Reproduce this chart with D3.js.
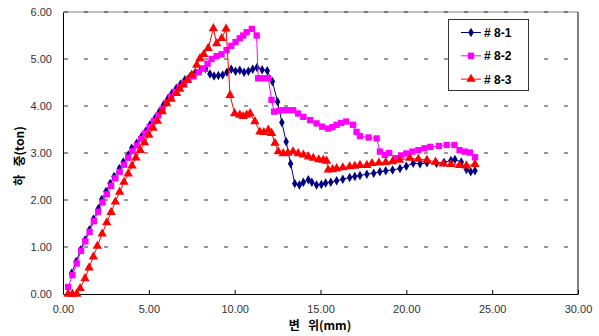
<!DOCTYPE html>
<html>
<head>
<meta charset="utf-8">
<script src="https://cdn.jsdelivr.net/npm/d3@7"></script>
<style>
  body { margin: 0; background: #fff; }
  text { font-family: "Liberation Sans", Arial, sans-serif; }
</style>
</head>
<body>
<svg id="chart" width="599" height="336"></svg>
<script>
// series names
const seriesNames = ["# 8-1", "# 8-2", "# 8-3"];

// tick labels
const xTicks = [0, 5, 10, 15, 20, 25, 30];
const yTicks = [0, 1, 2, 3, 4, 5, 6];

// # 8-1  [변위(mm), 하중(ton)]
const s81 = [[0.5,0.44],[0.76,0.69],[1.03,0.94],[1.28,1.15],[1.53,1.36],[1.77,1.59],[2.06,1.82],[2.25,2.01],[2.5,2.18],[2.74,2.35],[2.97,2.5],[3.28,2.67],[3.51,2.81],[3.8,2.96],[4.0,3.1],[4.29,3.21],[4.58,3.35],[4.83,3.47],[5.07,3.6],[5.36,3.74],[5.61,3.88],[5.85,4.02],[6.1,4.15],[6.35,4.27],[6.6,4.38],[6.85,4.47],[7.1,4.56],[7.4,4.63],[7.7,4.7],[8.0,4.75],[8.3,4.8],[8.56,4.68],[8.8,4.64],[9.05,4.65],[9.3,4.66],[9.55,4.72],[9.8,4.78],[10.05,4.74],[10.3,4.76],[10.55,4.72],[10.8,4.74],[11.05,4.78],[11.3,4.82],[11.6,4.77],[11.9,4.75],[12.2,4.52],[12.5,4.09],[12.75,3.65],[13.0,3.24],[13.26,2.77],[13.5,2.35],[13.77,2.32],[14.0,2.38],[14.29,2.43],[14.5,2.38],[14.77,2.32],[15.05,2.33],[15.3,2.36],[15.6,2.38],[15.94,2.41],[16.3,2.44],[16.7,2.48],[17.0,2.5],[17.3,2.52],[17.7,2.55],[18.1,2.57],[18.46,2.6],[18.8,2.62],[19.2,2.64],[19.63,2.67],[20.0,2.72],[20.4,2.78],[20.8,2.77],[21.2,2.79],[21.76,2.78],[22.2,2.8],[22.6,2.84],[22.83,2.86],[23.2,2.81],[23.5,2.65],[23.75,2.6],[24.0,2.62]];

// # 8-2
const s82 = [[0.3,0.15],[0.55,0.4],[0.8,0.65],[1.05,0.92],[1.3,1.12],[1.55,1.32],[1.8,1.55],[2.05,1.75],[2.3,1.95],[2.55,2.12],[2.8,2.3],[3.05,2.46],[3.3,2.6],[3.55,2.75],[3.8,2.9],[4.05,3.04],[4.3,3.16],[4.55,3.3],[4.8,3.42],[5.05,3.55],[5.3,3.68],[5.55,3.8],[5.8,3.94],[6.05,4.07],[6.3,4.2],[6.55,4.3],[6.8,4.4],[7.05,4.48],[7.3,4.56],[7.6,4.63],[7.9,4.72],[8.17,4.8],[8.42,4.9],[8.66,5.0],[8.95,5.06],[9.24,5.1],[9.53,5.19],[9.8,5.28],[10.05,5.36],[10.3,5.44],[10.5,5.5],[10.7,5.57],[11.0,5.64],[11.28,5.5],[11.37,4.59],[11.66,4.59],[11.96,4.59],[12.15,4.13],[12.3,3.88],[12.6,3.9],[12.83,3.91],[13.1,3.91],[13.4,3.91],[13.7,3.84],[14.0,3.77],[14.4,3.7],[14.77,3.63],[15.1,3.56],[15.45,3.52],[15.7,3.55],[15.94,3.6],[16.2,3.64],[16.5,3.67],[16.9,3.6],[17.1,3.45],[17.3,3.36],[17.8,3.33],[18.27,3.31],[18.46,3.03],[18.75,2.96],[19.0,3.0],[19.4,2.89],[19.7,2.95],[20.0,2.99],[20.35,3.03],[20.7,3.06],[21.05,3.1],[21.4,3.13],[21.9,3.15],[22.35,3.17],[22.8,3.17],[23.1,3.06],[23.4,3.03],[23.7,3.01],[24.0,2.91]];

// # 8-3
const s83 = [[0.3,0.0],[0.55,0.0],[0.8,0.0],[1.0,0.12],[1.28,0.33],[1.52,0.56],[1.77,0.79],[2.0,1.02],[2.28,1.28],[2.55,1.52],[2.8,1.74],[3.05,1.96],[3.3,2.17],[3.55,2.38],[3.8,2.56],[4.02,2.73],[4.25,2.9],[4.5,3.06],[4.75,3.22],[5.0,3.38],[5.25,3.53],[5.5,3.68],[5.78,3.88],[6.04,4.05],[6.3,4.15],[6.62,4.27],[6.8,4.36],[7.0,4.45],[7.25,4.55],[7.5,4.66],[7.79,4.87],[7.98,5.01],[8.2,5.1],[8.46,5.23],[8.76,5.65],[8.95,5.33],[9.24,5.44],[9.5,5.64],[9.73,4.23],[10.0,3.84],[10.3,3.81],[10.5,3.78],[10.7,3.81],[10.9,3.84],[11.18,3.67],[11.47,3.45],[11.7,3.44],[11.96,3.49],[12.15,3.42],[12.35,3.21],[12.54,3.03],[12.83,2.99],[13.1,3.0],[13.4,3.03],[13.7,2.99],[14.0,2.96],[14.3,2.92],[14.58,2.89],[14.9,2.86],[15.16,2.85],[15.35,2.83],[15.45,2.64],[15.7,2.65],[15.94,2.67],[16.3,2.69],[16.7,2.71],[17.0,2.72],[17.3,2.74],[17.7,2.74],[18.0,2.78],[18.4,2.79],[18.8,2.8],[19.2,2.82],[19.6,2.85],[20.2,2.89],[20.7,2.87],[21.2,2.85],[21.7,2.81],[22.15,2.77],[22.6,2.76],[23.1,2.74],[23.5,2.73],[24.0,2.76]];

const colors = ["#000080", "#ff00ff", "#ff0000"];
const symbols = [d3.symbolDiamond, d3.symbolSquare, d3.symbolTriangle];
const symSize = [26, 40, 38];

const svg = d3.select("#chart");
const plotL = 63, plotR = 578, plotT = 12, plotB = 294;

const x = d3.scaleLinear().domain([0, 30]).range([plotL, plotR]);
const y = d3.scaleLinear().domain([0, 6]).range([plotB, plotT]);

// grid lines
svg.append("g").selectAll("line")
  .data(yTicks.filter(d => d > 0 && d < 6))
  .enter().append("line")
    .attr("x1", plotL).attr("x2", plotR)
    .attr("y1", d => y(d)).attr("y2", d => y(d))
    .attr("stroke", "#333").attr("stroke-width", 1)
    .attr("stroke-dasharray", "4,16")
    .attr("stroke-dashoffset", -1);

// frame: top grey, right black
svg.append("line").attr("x1", plotL).attr("x2", plotR).attr("y1", plotT).attr("y2", plotT)
  .attr("stroke", "#808080");
svg.append("line").attr("x1", plotL).attr("x2", plotR).attr("y1", plotT).attr("y2", plotT)
  .attr("stroke", "#333").attr("stroke-dasharray", "4,16").attr("stroke-dashoffset", -1);
svg.append("line").attr("x1", plotR).attr("x2", plotR).attr("y1", plotT).attr("y2", plotB)
  .attr("stroke", "#000");

// axes
const xAxis = svg.append("g")
  .attr("transform", "translate(0," + plotB + ")")
  .call(d3.axisBottom(x).tickValues(xTicks).tickSizeInner(-4).tickSizeOuter(0)
    .tickFormat(d3.format(".2f")));
xAxis.select(".domain").attr("stroke", "#000");
xAxis.selectAll("text").attr("y", 11).attr("font-size", 11).attr("fill", "#333")
  .style("font-family", "Liberation Sans, Arial, sans-serif");

const yAxis = svg.append("g")
  .attr("transform", "translate(" + plotL + ",0)")
  .call(d3.axisLeft(y).tickValues(yTicks).tickSize(0)
    .tickFormat(d3.format(".2f")));
yAxis.select(".domain").attr("stroke", "#000");
yAxis.selectAll("text").attr("x", -11).attr("font-size", 11).attr("fill", "#333")
  .style("font-family", "Liberation Sans, Arial, sans-serif");

// series
const allSeries = [s81, s82, s83];
const line = d3.line().x(d => x(d[0])).y(d => y(d[1]));

allSeries.forEach((s, i) => {
  svg.append("path").datum(s)
    .attr("d", line)
    .attr("fill", "none")
    .attr("stroke", colors[i])
    .attr("stroke-width", 1);
  svg.append("g").selectAll("path")
    .data(s).enter().append("path")
      .attr("transform", d => "translate(" + x(d[0]) + "," + y(d[1]) + ")")
      .attr("d", d3.symbol().type(symbols[i]).size(symSize[i]))
      .attr("fill", colors[i]);
});

// axis titles
svg.append("text")
  .attr("transform", "translate(24,156) rotate(-90)")
  .attr("text-anchor", "middle")
  .attr("font-size", 12).attr("font-weight", "bold")
  .style("font-family", "'Noto Sans CJK KR', sans-serif")
  .style("white-space", "pre")
  .text("하   중(ton)");

svg.append("text")
  .attr("x", 320).attr("y", 330)
  .attr("text-anchor", "middle")
  .attr("font-size", 12).attr("font-weight", "bold")
  .style("font-family", "'Noto Sans CJK KR', sans-serif")
  .style("white-space", "pre")
  .text("변   위(mm)");

// legend
const legend = svg.append("g");
legend.append("rect")
  .attr("x", 448.5).attr("y", 19.5).attr("width", 80).attr("height", 71)
  .attr("fill", "#fff").attr("stroke", "#333");
seriesNames.forEach((name, i) => {
  const ly = 32.5 + i * 23.3;
  legend.append("line").attr("x1", 461).attr("x2", 481).attr("y1", ly).attr("y2", ly)
    .attr("stroke", colors[i]);
  legend.append("path")
    .attr("transform", "translate(471," + ly + ")")
    .attr("d", d3.symbol().type(symbols[i]).size(symSize[i]))
    .attr("fill", colors[i]);
  legend.append("text")
    .attr("x", 484).attr("y", ly + 4.5)
    .attr("font-size", 12).attr("font-weight", "bold")
    .text(name);
});
</script>
</body>
</html>
